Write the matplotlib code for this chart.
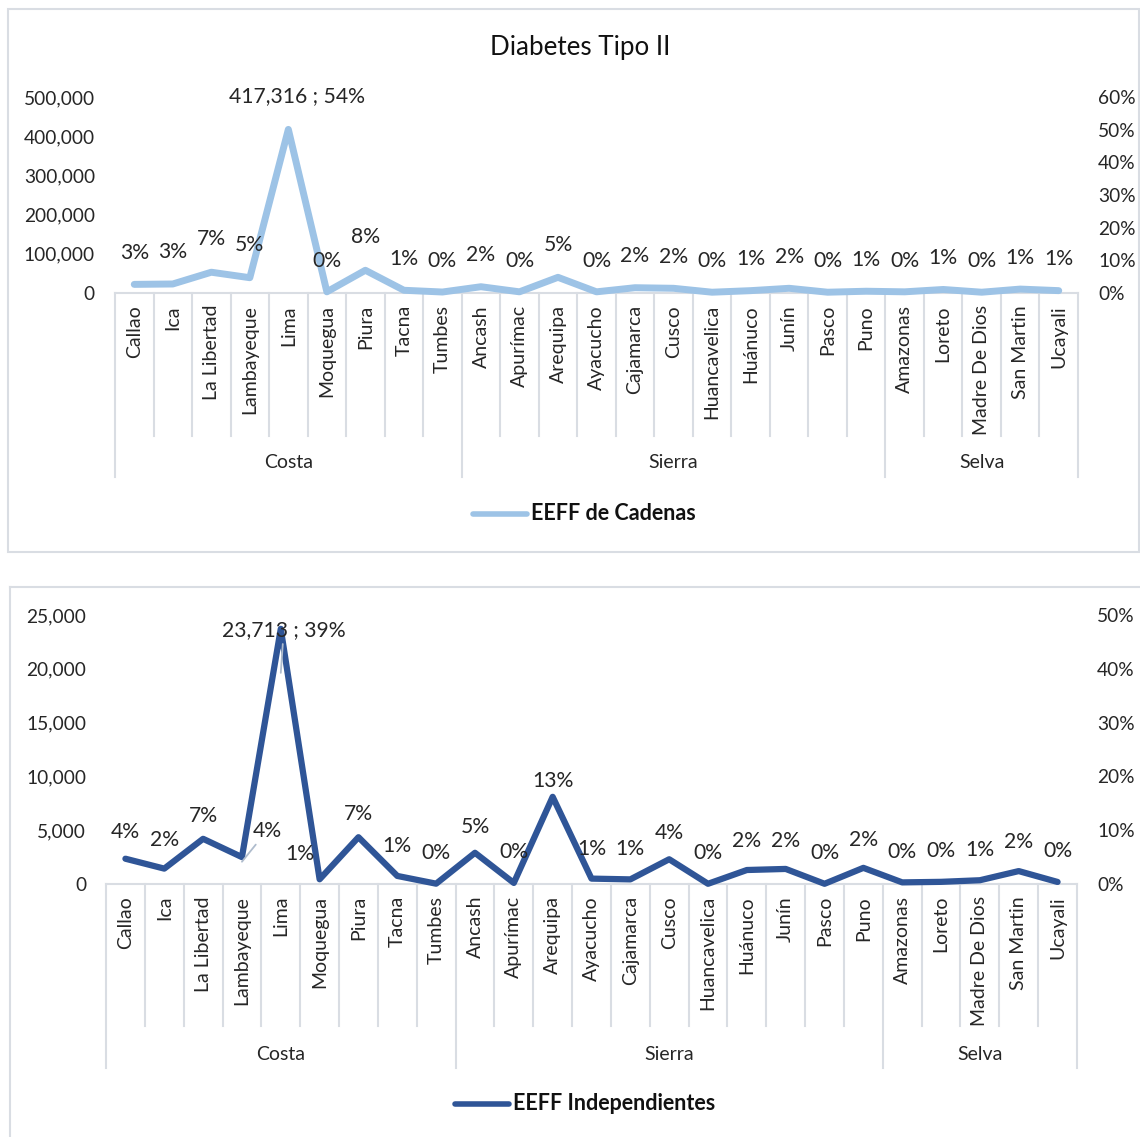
import matplotlib
matplotlib.use('Agg')
import matplotlib.pyplot as plt
from matplotlib.ticker import FuncFormatter
from matplotlib.lines import Line2D
from matplotlib.patches import Rectangle

W, H = 1140, 1137

regions = ['Callao', 'Ica', 'La Libertad', 'Lambayeque', 'Lima', 'Moquegua', 'Piura',
           'Tacna', 'Tumbes', 'Ancash', 'Apurímac', 'Arequipa', 'Ayacucho', 'Cajamarca',
           'Cusco', 'Huancavelica', 'Huánuco', 'Junín', 'Pasco', 'Puno', 'Amazonas',
           'Loreto', 'Madre De Dios', 'San Martin', 'Ucayali']
groups = ['Costa', 'Sierra', 'Selva']
group_sizes = [9, 11, 5]

cadenas = [22000, 23000, 53000, 39000, 417316, 3000, 58000, 7000, 2500, 16000, 3000,
           40000, 3000, 13500, 12000, 2000, 6000, 12000, 2000, 4500, 3000, 9000, 2000,
           10000, 6000]
cadenas_pct = ['3%', '3%', '7%', '5%', '417,316 ; 54%', '0%', '8%', '1%', '0%', '2%', '0%',
               '5%', '0%', '2%', '2%', '0%', '1%', '2%', '0%', '1%', '0%', '1%', '0%',
               '1%', '1%']

independientes = [2350, 1430, 4200, 2500, 23713, 440, 4350, 750, 30, 2900, 100, 8100,
                  500, 430, 2300, 20, 1300, 1400, 20, 1500, 150, 200, 350, 1200, 190]
independientes_pct = ['4%', '2%', '7%', '4%', '23,713 ; 39%', '1%', '7%', '1%', '0%', '5%',
                      '0%', '13%', '1%', '1%', '4%', '0%', '2%', '2%', '0%', '2%', '0%',
                      '0%', '1%', '2%', '0%']

plt.rcParams['font.family'] = ['Lato', 'DejaVu Sans']
TXT = '#262626'
GRID = '#D9DDE3'
PX = 0.72  # points per pixel at dpi 100
TICK_FS = 13.8
CAT_FS = 14
LAB_FS = 15.2

fig = plt.figure(figsize=(W / 100, H / 100), dpi=100)


def fxy(x, y):
    return x / W, 1 - y / H


def panel(box, values, labels, color, lw, lmax, lstep, rmax, rstep, legend_text,
          legend_x, legend_y, overrides, group_label_y, sep_y, group_sep_y):
    x0, y0, x1, y1 = box
    ax = fig.add_axes([x0 / W, 1 - y1 / H, (x1 - x0) / W, (y1 - y0) / H])
    n = len(values)
    ax.plot(range(n), values, color=color, lw=lw, solid_joinstyle='round',
            solid_capstyle='round', zorder=3, clip_on=False)
    ax.set_xlim(-0.5, n - 0.5)
    ax.set_ylim(0, lmax)
    ax.set_yticks(range(0, lmax + 1, lstep))
    ax.yaxis.set_major_formatter(FuncFormatter(lambda v, p: f'{int(v):,}'))
    for s in ['top', 'left', 'right']:
        ax.spines[s].set_visible(False)
    ax.spines['bottom'].set_color(GRID)
    ax.spines['bottom'].set_linewidth(1.5)
    ax.tick_params(axis='y', length=0, pad=20 * PX, labelsize=TICK_FS, labelcolor=TXT)
    ax.set_xticks(range(n))
    ax.set_xticklabels(regions, rotation=90)
    ax.tick_params(axis='x', length=0, pad=12 * PX, labelsize=CAT_FS, labelcolor=TXT)

    axr = ax.twinx()
    axr.set_ylim(0, rmax)
    axr.set_yticks(range(0, rmax + 1, rstep))
    axr.yaxis.set_major_formatter(FuncFormatter(lambda v, p: f'{int(v)}%'))
    for s in axr.spines.values():
        s.set_visible(False)
    axr.tick_params(axis='y', length=0, pad=20 * PX, labelsize=TICK_FS, labelcolor=TXT)

    total = sum(values)
    for i, (v, lab) in enumerate(zip(values, labels)):
        pct = v / total * 100
        dx, dy, leader = overrides.get(i, (0, 31, False))
        kw = {}
        if leader:
            kw['arrowprops'] = dict(arrowstyle='-', color='#AFBCCD', lw=1.3,
                                    shrinkA=1, shrinkB=0)
        axr.annotate(lab, xy=(i, pct), xytext=(dx * PX, dy * PX),
                     textcoords='offset points', ha='center', va='center',
                     fontsize=LAB_FS, color=TXT, annotation_clip=False, zorder=4, **kw)

    # multi-level category separators
    h = y1 - y0
    xt = ax.get_xaxis_transform()
    bounds = [0]
    for g in group_sizes:
        bounds.append(bounds[-1] + g)
    for k in range(n + 1):
        bottom = group_sep_y if k in bounds else sep_y
        ax.plot([k - 0.5, k - 0.5], [0, (y1 - bottom) / h], transform=xt,
                color=GRID, lw=1.5, clip_on=False, zorder=1)
    for gi, g in enumerate(groups):
        c = (bounds[gi] + bounds[gi + 1] - 1) / 2
        ax.text(c, (y1 - group_label_y) / h, g, transform=xt, ha='center',
                va='center', fontsize=CAT_FS, color=TXT)

    # legend
    lx0, ly = fxy(legend_x, legend_y)
    lx1, _ = fxy(legend_x + 54, legend_y)
    fig.add_artist(Line2D([lx0, lx1], [ly, ly], color=color, lw=4.0,
                          solid_capstyle='round'))
    tx, _ = fxy(legend_x + 58, legend_y)
    fig.text(tx, ly, legend_text, ha='left', va='center', fontsize=15.5,
             fontweight='bold', color='#111111')
    return ax


# panel frames
fig.add_artist(Rectangle(fxy(8, 552), 1131 / W, 543 / H, fill=False,
                         edgecolor=GRID, lw=1.5))
fig.add_artist(Line2D([10 / W, 1.0], [1 - 587 / H] * 2, color=GRID, lw=1.5))
fig.add_artist(Line2D([10 / W, 10 / W], [1 - 587 / H, 0], color=GRID, lw=1.5))

fig.text(580 / W, 1 - 47 / H, 'Diabetes Tipo II', ha='center', va='center',
         fontsize=18.7, color='#111111')

panel((115, 97, 1078, 293), cadenas, cadenas_pct, '#9DC3E6', 5.0, 500000, 100000,
      60, 10, 'EEFF de Cadenas', 473, 514,
      {4: (9, 20, False)}, 463, 436, 477)

panel((106, 615, 1077, 884), independientes, independientes_pct, '#2F5597', 4.5,
      25000, 5000, 50, 10, 'EEFF Independientes', 455, 1104,
      {4: (3, 43, True), 3: (25, 31, True), 5: (-20, 26, False)}, 1054, 1026, 1068)

fig.savefig('out.png', dpi=100)
